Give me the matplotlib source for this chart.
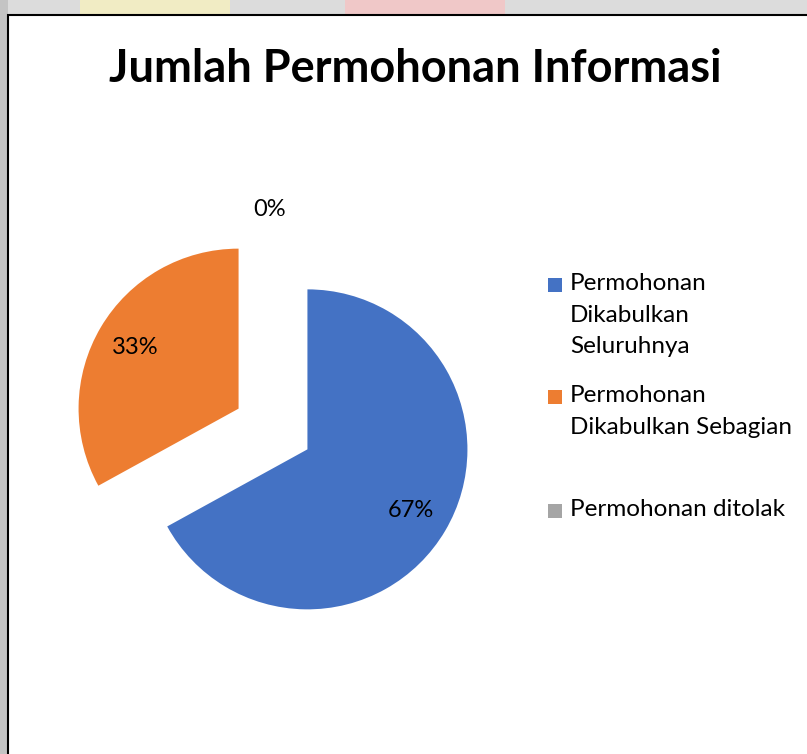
import matplotlib.pyplot as plt
from matplotlib.patches import Rectangle

# data
categories = ['Permohonan\nDikabulkan\nSeluruhnya',
              'Permohonan\nDikabulkan Sebagian',
              'Permohonan ditolak']
values = [67, 33, 0]
pct_labels = ['67%', '33%', '0%']
colors = ['#4472C4', '#ED7D31', '#A5A5A5']

W, H = 807, 754
fig = plt.figure(figsize=(W / 100, H / 100), dpi=100)
fig.patch.set_facecolor('white')

# background behind the chart box (screenshot edges)
bg = fig.add_axes([0, 0, 1, 1])
bg.set_xlim(0, W)
bg.set_ylim(H, 0)
bg.axis('off')
bg.add_patch(Rectangle((0, 0), W, 15, color='#dcdcdc', lw=0))
bg.add_patch(Rectangle((0, 0), 8, H, color='#c4c4c4', lw=0))
bg.add_patch(Rectangle((80, 0), 150, 15, color='#f1ecc4', lw=0))
bg.add_patch(Rectangle((345, 0), 160, 15, color='#f0c8c8', lw=0))
bg.add_patch(Rectangle((8, 15), W, H, facecolor='white', edgecolor='black', lw=1.5))

ax = fig.add_axes([0, 0, 1, 1])
ax.patch.set_alpha(0)
wedges, texts, autotexts = ax.pie(values, colors=colors, startangle=90,
                                  counterclock=False, radius=160,
                                  center=(273, H - 429),
                                  explode=[40, 40, 40],
                                  autopct='%1.0f%%', pctdistance=0.75,
                                  wedgeprops=dict(linewidth=0),
                                  textprops=dict(fontsize=17, family='Lato'))
for t, s in zip(autotexts, pct_labels):
    t.set_text(s)
autotexts[2].set_position((270, H - 210))
ax.set_xlim(0, W)
ax.set_ylim(0, H)
ax.set_aspect('equal')
ax.axis('off')

fig.text(415 / W, 1 - 69 / H, 'Jumlah Permohonan Informasi', ha='center', va='center',
         fontsize=32.5, fontweight='bold', family='Lato')

# legend, laid out like the original
leg_y = [285, 397, 511]
for lab, c, y in zip(categories, colors, leg_y):
    bg.add_patch(Rectangle((548, y - 7), 14, 14, color=c, lw=0))
    bg.text(570, y - 12, lab, ha='left', va='top', fontsize=17.5, family='Lato',
            linespacing=1.63)

fig.savefig('out.png', dpi=100)
